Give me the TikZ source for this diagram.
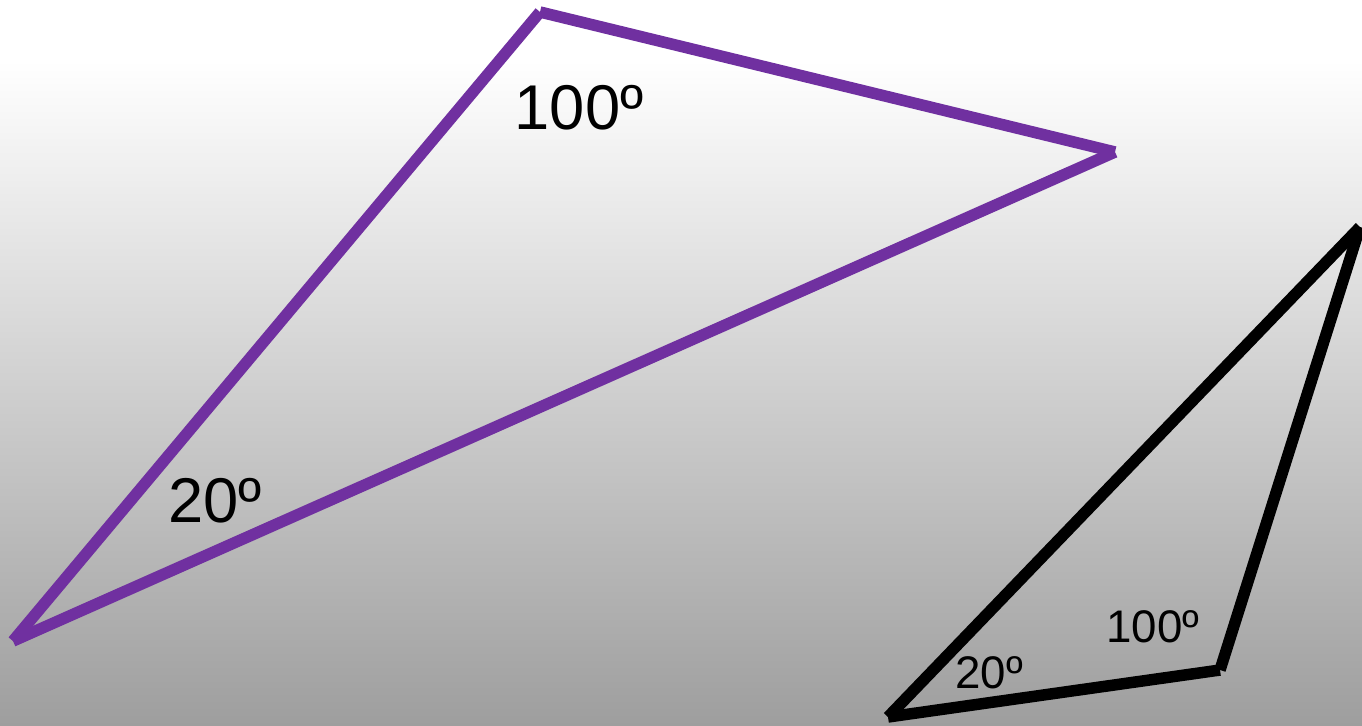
\documentclass[tikz,border=0pt]{standalone}
\usepackage{fontspec}
\setmainfont{Liberation Sans}
\usepackage{tikz}
\usetikzlibrary{positioning, calc}

\definecolor{tripurple}{HTML}{7030A0}

\begin{document}
\begin{tikzpicture}[x=0.02cm, y=-0.02cm,
    side/.style={line width=0.23cm, line cap=butt},
    biglabel/.style={font=\fontsize{36}{40}\selectfont, inner sep=0pt},
    smalllabel/.style={font=\fontsize{26}{30}\selectfont, inner sep=0pt}]
  % background
  \fill[white] (0,0) rectangle (1362,60);
  \shade[top color=white, bottom color=black!38] (0,60) rectangle (1362,725);
  \useasboundingbox (0,0) rectangle (1362,725);

  % large triangle
  \coordinate (pA) at (540,12);
  \coordinate (pB) at (1115,152);
  \coordinate (pC) at (13,641);
  \draw[side, tripurple] (pA) -- (pB);
  \draw[side, tripurple] (pB) -- (pC);
  \draw[side, tripurple] (pC) -- (pA);
  \node[biglabel] (pangA) at (579,108) {100º};
  \node[biglabel] (pangC) at (215,501) {20º};

  % small triangle
  \coordinate (kA) at (888,717);
  \coordinate (kB) at (1360,227);
  \coordinate (kC) at (1220,670);
  \draw[side, black] (kA) -- (kB);
  \draw[side, black] (kB) -- (kC);
  \draw[side, black] (kC) -- (kA);
  \node[smalllabel] (kangC) at (1153,627) {100º};
  \node[smalllabel] (kangA) at (989,673) {20º};
\end{tikzpicture}
\end{document}
